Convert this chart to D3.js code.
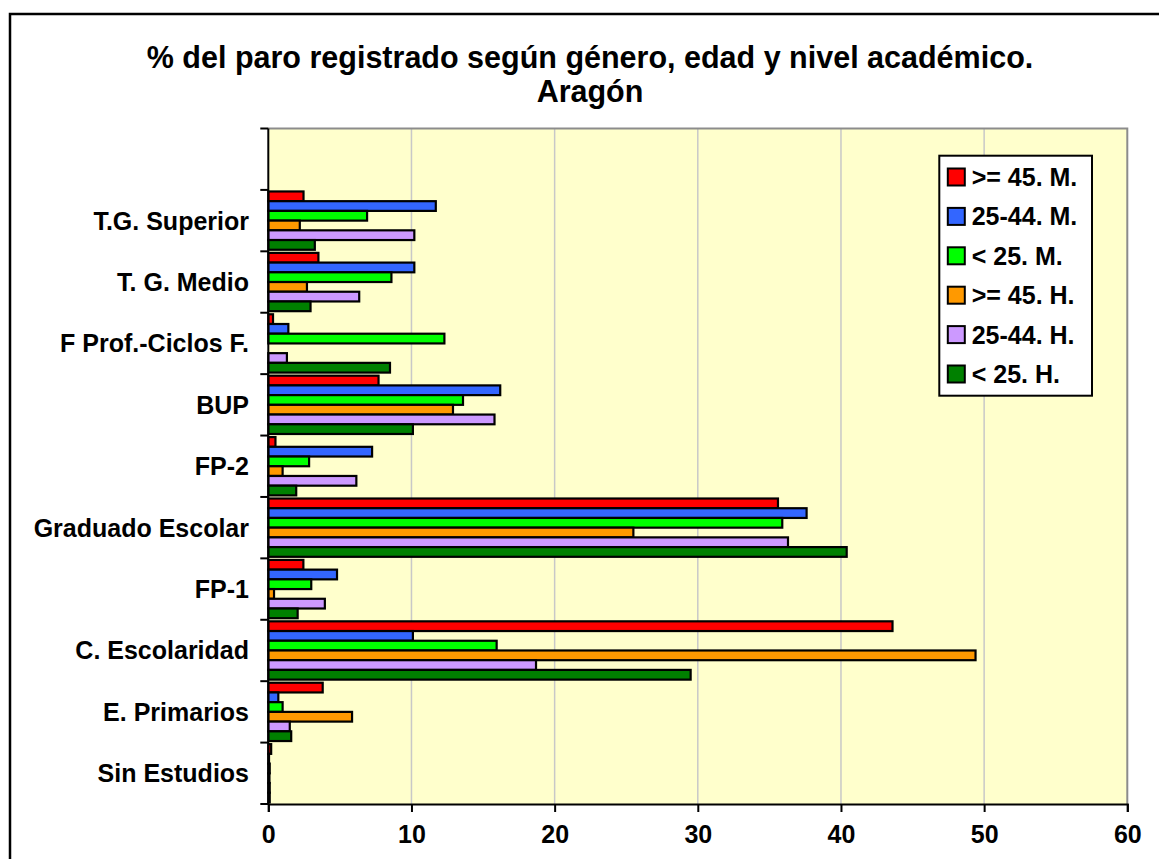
<!DOCTYPE html>
<html>
<head>
<meta charset="utf-8">
<script src="https://cdn.jsdelivr.net/npm/d3@7"></script>
<style>
  body { margin: 0; background: #fff; }
  text { font-family: "Liberation Sans", Arial, sans-serif; font-weight: bold; fill: #000; }
</style>
</head>
<body>
<script>
var width = 1159,
    height = 859;

// categories top to bottom (first slot is empty in the original)
var categories = ["", "T.G. Superior", "T. G. Medio", "F Prof.-Ciclos F.", "BUP", "FP-2",
                  "Graduado Escolar", "FP-1", "C. Escolaridad", "E. Primarios", "Sin Estudios"];

var seriesNames = [">= 45. M.", "25-44. M.", "< 25. M.", ">= 45. H.", "25-44. H.", "< 25. H."];
var seriesColors = ["#FF0000", "#3366FF", "#00FF00", "#FF9900", "#CC99FF", "#008000"];

var mayor45M  = [null, 2.46, 3.5, 0.33, 7.7, 0.5, 35.6, 2.45, 43.6, 3.8, 0.2];
var de25a44M  = [null, 11.7, 10.2, 1.4, 16.2, 7.25, 37.6, 4.8, 10.1, 0.7, 0.05];
var menor25M  = [null, 6.9, 8.6, 12.3, 13.6, 2.85, 35.9, 3.0, 15.95, 1.0, 0.1];
var mayor45H  = [null, 2.2, 2.7, 0, 12.9, 1.0, 25.5, 0.4, 49.4, 5.85, 0.08];
var de25a44H  = [null, 10.2, 6.35, 1.3, 15.8, 6.15, 36.3, 3.95, 18.7, 1.5, 0.1];
var menor25H  = [null, 3.25, 2.95, 8.5, 10.1, 1.95, 40.4, 2.05, 29.5, 1.6, 0.1];

var seriesValues = [mayor45M, de25a44M, menor25M, mayor45H, de25a44H, menor25H];
var xTicks = [0, 10, 20, 30, 40, 50, 60];

var plot = {left: 268.3, right: 1127.3, top: 128.5, bottom: 804};

var svg = d3.select("body").append("svg")
    .attr("width", width)
    .attr("height", height);

// outer chart frame (runs off the picture on right and bottom)
svg.append("rect")
    .attr("x", 10).attr("y", 14)
    .attr("width", 1200).attr("height", 900)
    .attr("fill", "#fff")
    .attr("stroke", "#000")
    .attr("stroke-width", 2.5);

svg.append("text")
    .attr("x", 590).attr("y", 68)
    .attr("text-anchor", "middle")
    .style("font-size", "30.5px")
    .text("% del paro registrado según género, edad y nivel académico.");
svg.append("text")
    .attr("x", 590).attr("y", 102)
    .attr("text-anchor", "middle")
    .style("font-size", "30.5px")
    .text("Aragón");

var x = d3.scaleLinear().domain([0, 60]).range([plot.left, plot.right]);
var y = d3.scaleBand().domain(categories).range([plot.top, plot.bottom]).padding(0);
var ySub = d3.scaleBand().domain(d3.range(seriesNames.length))
    .range([0, y.bandwidth()]).paddingInner(0).paddingOuter(0.16);

// plot background
svg.append("rect")
    .attr("x", plot.left).attr("y", plot.top)
    .attr("width", plot.right - plot.left).attr("height", plot.bottom - plot.top)
    .attr("fill", "#FFFFCC");

// gridlines
svg.append("g").selectAll("line")
    .data(xTicks.slice(1, -1))
  .enter().append("line")
    .attr("x1", function(d) { return x(d); })
    .attr("x2", function(d) { return x(d); })
    .attr("y1", plot.top).attr("y2", plot.bottom)
    .attr("stroke", "#C8C8C8")
    .attr("stroke-width", 1.5);

// top and right border in grey
svg.append("path")
    .attr("d", "M" + plot.left + "," + plot.top + "H" + plot.right + "V" + plot.bottom)
    .attr("fill", "none")
    .attr("stroke", "#8C8C8C")
    .attr("stroke-width", 2);

// bars
var groups = svg.append("g").selectAll("g")
    .data(categories)
  .enter().append("g")
    .attr("transform", function(d) { return "translate(0," + y(d) + ")"; });

groups.selectAll("rect")
    .data(function(d, i) {
      return seriesValues.map(function(s, k) { return {k: k, v: s[i]}; })
        .filter(function(e) { return e.v != null && e.v > 0; });
    })
  .enter().append("rect")
    .attr("x", x(0))
    .attr("y", function(d) { return ySub(d.k); })
    .attr("width", function(d) { return x(d.v) - x(0); })
    .attr("height", ySub.bandwidth())
    .attr("fill", function(d) { return seriesColors[d.k]; })
    .attr("stroke", "#000")
    .attr("stroke-width", 2.2);

// y axis: ticks on band boundaries
var yBounds = categories.map(function(c) { return y(c); }).concat([plot.bottom]);
var yAxis = svg.append("g");
yAxis.append("line")
    .attr("x1", plot.left).attr("x2", plot.left)
    .attr("y1", plot.top).attr("y2", plot.bottom)
    .attr("stroke", "#000").attr("stroke-width", 2);
yAxis.selectAll(".tk")
    .data(yBounds)
  .enter().append("line")
    .attr("x1", plot.left - 8).attr("x2", plot.left)
    .attr("y1", function(d) { return d; }).attr("y2", function(d) { return d; })
    .attr("stroke", "#000").attr("stroke-width", 2);
yAxis.selectAll("text")
    .data(categories)
  .enter().append("text")
    .attr("x", 249)
    .attr("y", function(d) { return y(d) + y.bandwidth() / 2 + 9; })
    .attr("text-anchor", "end")
    .style("font-size", "25px")
    .text(function(d) { return d; });

// x axis
var xAxis = svg.append("g")
    .attr("transform", "translate(0," + plot.bottom + ")")
    .call(d3.axisBottom(x).tickValues(xTicks).tickSize(8).tickPadding(13).tickFormat(d3.format("d")));
xAxis.select(".domain").attr("stroke", "#000").attr("stroke-width", 2);
xAxis.selectAll(".tick line").attr("stroke", "#000").attr("stroke-width", 2);
xAxis.selectAll(".tick text")
    .style("font-size", "25px")
    .style("font-family", "'Liberation Sans', Arial, sans-serif")
    .attr("fill", "#000");

// legend
var legend = svg.append("g").attr("transform", "translate(939.3,155.7)");
legend.append("rect")
    .attr("width", 152.7).attr("height", 240)
    .attr("fill", "#fff")
    .attr("stroke", "#000")
    .attr("stroke-width", 2);
var items = legend.selectAll(".item")
    .data(seriesNames)
  .enter().append("g")
    .attr("transform", function(d, i) { return "translate(0," + (21.3 + i * 39.4) + ")"; });
items.append("rect")
    .attr("x", 8.5).attr("y", -8.5)
    .attr("width", 17).attr("height", 17)
    .attr("fill", function(d, i) { return seriesColors[i]; })
    .attr("stroke", "#000").attr("stroke-width", 2);
items.append("text")
    .attr("x", 32.4).attr("y", 9)
    .style("font-size", "25px")
    .text(function(d) { return d; });
</script>
</body>
</html>
